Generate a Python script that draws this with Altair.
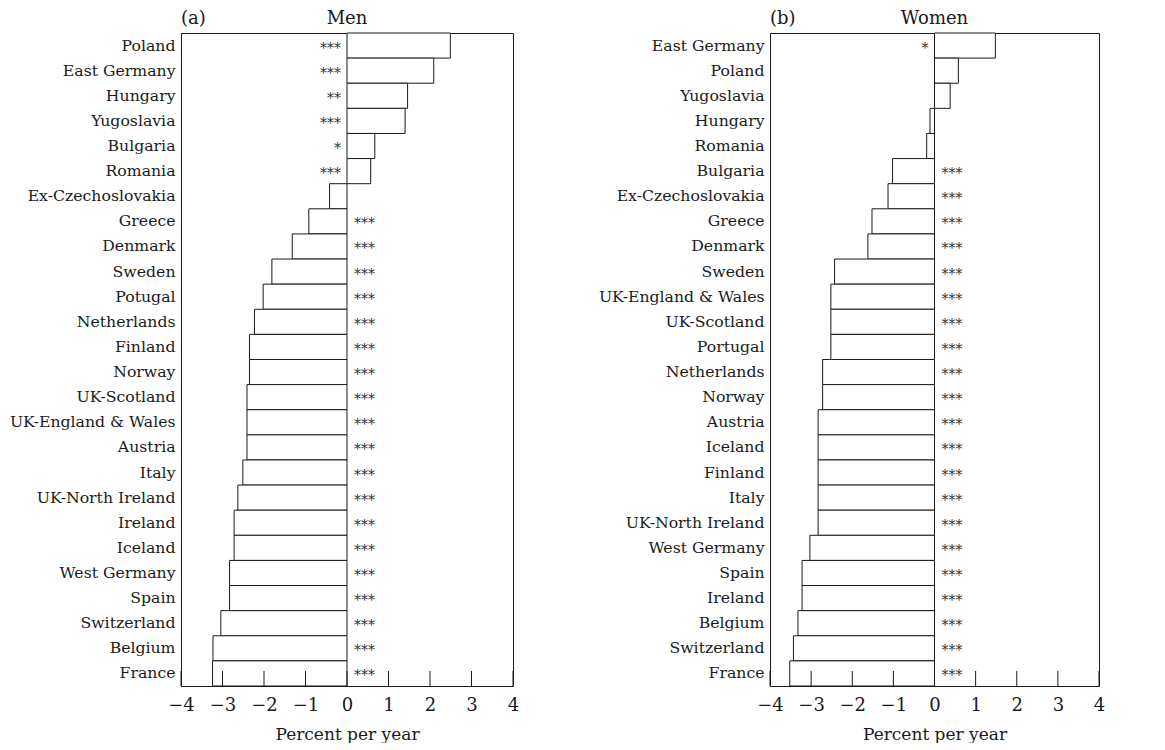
import altair as alt
import pandas as pd

FONT = "DejaVu Serif"
INK = "#1a1a1a"

men_countries = ["Poland", "East Germany", "Hungary", "Yugoslavia", "Bulgaria", "Romania",
                 "Ex-Czechoslovakia", "Greece", "Denmark", "Sweden", "Potugal", "Netherlands",
                 "Finland", "Norway", "UK-Scotland", "UK-England & Wales", "Austria", "Italy",
                 "UK-North Ireland", "Ireland", "Iceland", "West Germany", "Spain",
                 "Switzerland", "Belgium", "France"]
men_values = [2.49, 2.09, 1.46, 1.40, 0.67, 0.57, -0.42, -0.92, -1.32, -1.81, -2.02, -2.23,
              -2.35, -2.35, -2.41, -2.41, -2.41, -2.51, -2.63, -2.72, -2.72, -2.83, -2.83,
              -3.04, -3.23, -3.24]
men_stars = ["***", "***", "**", "***", "*", "***", "", "***", "***", "***", "***", "***",
             "***", "***", "***", "***", "***", "***", "***", "***", "***", "***", "***",
             "***", "***", "***"]

women_countries = ["East Germany", "Poland", "Yugoslavia", "Hungary", "Romania", "Bulgaria",
                   "Ex-Czechoslovakia", "Greece", "Denmark", "Sweden", "UK-England & Wales",
                   "UK-Scotland", "Portugal", "Netherlands", "Norway", "Austria", "Iceland",
                   "Finland", "Italy", "UK-North Ireland", "West Germany", "Spain", "Ireland",
                   "Belgium", "Switzerland", "France"]
women_values = [1.48, 0.58, 0.38, -0.11, -0.19, -1.02, -1.13, -1.52, -1.62, -2.43, -2.52,
                -2.52, -2.52, -2.72, -2.72, -2.83, -2.83, -2.83, -2.83, -2.83, -3.03, -3.22,
                -3.22, -3.32, -3.43, -3.52]
women_stars = ["*", "", "", "", "", "***", "***", "***", "***", "***", "***", "***", "***",
               "***", "***", "***", "***", "***", "***", "***", "***", "***", "***", "***",
               "***", "***"]

tick_values = [-4, -3, -2, -1, 0, 1, 2, 3, 4]

H = 653
TICK_LEN = 15
XTITLE = "Percent per year"


def panel(countries, values, stars, letter, title, width):
    df = pd.DataFrame({"country": countries, "value": values, "stars": stars})
    df["zero"] = 0
    xscale = alt.Scale(domain=[-4, 4], nice=False, zero=False)
    xaxis = alt.Axis(values=tick_values, ticks=False, domain=False, grid=False,
                     labelFlush=False, labelPadding=10, labelFontSize=18,
                     labelFont=FONT, labelColor=INK, title=XTITLE,
                     titleFont=FONT, titleFontSize=17, titleFontWeight="normal",
                     titleColor=INK, titlePadding=12, format="d")
    yaxis = alt.Axis(title=None, ticks=False, domain=False, grid=False,
                     labelFontSize=15.7, labelFont=FONT, labelColor=INK,
                     labelPadding=6, labelLimit=0)
    yscale = alt.Scale(paddingInner=0, paddingOuter=0)

    def X(field):
        return alt.X(field, scale=xscale, axis=xaxis, title=XTITLE)

    def Y():
        return alt.Y("country:N", sort=countries, scale=yscale, axis=yaxis, title=None)

    bars = alt.Chart(df).mark_bar(fill="white", stroke=INK, strokeWidth=1).encode(
        x=X("value:Q"), x2=alt.X2("zero:Q"), y=Y(),
    )

    pos = alt.Chart(df).transform_filter("datum.value > 0").mark_text(
        align="right", baseline="middle", dx=-6, dy=3, fontSize=14, font=FONT, color="#333"
    ).encode(x=X("zero:Q"), y=Y(), text="stars:N")

    neg = alt.Chart(df).transform_filter("datum.value <= 0").mark_text(
        align="left", baseline="middle", dx=7, dy=3, fontSize=14, font=FONT, color="#333"
    ).encode(x=X("zero:Q"), y=Y(), text="stars:N")

    tdf = pd.DataFrame({"t": tick_values})
    ticks = alt.Chart(tdf).mark_rule(color=INK, strokeWidth=1).encode(
        x=X("t:Q"),
        y=alt.value(H - TICK_LEN), y2=alt.value(H),
    )

    ldf = pd.DataFrame({"lab": [letter]})
    lab = alt.Chart(ldf).mark_text(align="left", baseline="alphabetic", fontSize=18,
                                   font=FONT, color=INK).encode(
        text="lab:N", x=alt.value(0), y=alt.value(-9))

    tdf2 = pd.DataFrame({"lab": [title], "zero": [0]})
    ttl = alt.Chart(tdf2).mark_text(align="center", baseline="alphabetic", fontSize=18,
                                    font=FONT, color=INK).encode(
        text="lab:N", x=X("zero:Q"), y=alt.value(-9))

    return alt.layer(bars, ticks, pos, neg, lab, ttl).properties(
        width=width, height=H,
    )


chart = alt.hconcat(
    panel(men_countries, men_values, men_stars, "(a)", "Men", 332),
    panel(women_countries, women_values, women_stars, "(b)", "Women", 329),
    spacing=77,
).properties(
    padding={"left": 0, "top": 1, "right": 0, "bottom": 0},
    background="white",
).configure_view(stroke=INK, strokeWidth=1)

chart.save("out.html", embed_options={"renderer": "svg", "actions": False})
